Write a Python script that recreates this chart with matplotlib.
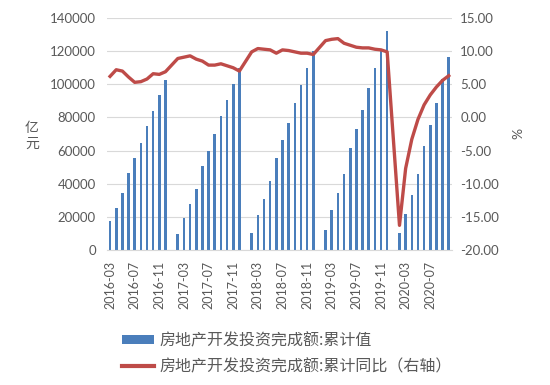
import numpy as np
import matplotlib
matplotlib.use("Agg")
import matplotlib.pyplot as plt
from matplotlib.patches import Patch
from matplotlib.lines import Line2D

# cumulative investment (亿元); None = January (no data)
v2016 = [17677, 25337, 34330, 46631, 55360, 64571, 74598, 83975, 93387, 102581]  # Mar-Dec
v2017 = [None, 9478, 19292, 27732, 36942, 50610, 59761, 69694, 80644, 90544, 100387, 109799]
v2018 = [None, 10357, 21291, 30592, 41301, 55531, 66098, 76519, 88948, 99325, 110083, 120264]
v2019 = [None, 12090, 23803, 34217, 46075, 61609, 72843, 84589, 98008, 109603, 121265, 132194]
v2020 = [None, 10115, 21963, 33103, 45920, 62780, 75325, 88454, 103484, 116556]  # Jan-Oct

# cumulative yoy (%)
y2016 = [6.2, 7.2, 7.0, 6.1, 5.3, 5.4, 5.8, 6.6, 6.5, 6.9]
y2017 = [None, 8.9, 9.1, 9.3, 8.8, 8.5, 7.9, 7.9, 8.1, 7.8, 7.5, 7.0]
y2018 = [None, 9.9, 10.4, 10.3, 10.2, 9.7, 10.2, 10.1, 9.9, 9.7, 9.7, 9.5]
y2019 = [None, 11.6, 11.8, 11.9, 11.2, 10.9, 10.6, 10.5, 10.5, 10.3, 10.2, 9.9]
y2020 = [None, -16.3, -7.7, -3.3, -0.3, 1.9, 3.4, 4.6, 5.6, 6.3]

months = ([f"2016-{m:02d}" for m in range(3, 13)] +
          [f"{y}-{m:02d}" for y in (2017, 2018, 2019) for m in range(1, 13)] +
          [f"2020-{m:02d}" for m in range(1, 11)])

values = np.array([np.nan if v is None else v for v in v2016 + v2017 + v2018 + v2019 + v2020], float)
yoy = np.array([np.nan if v is None else v for v in y2016 + y2017 + y2018 + y2019 + y2020], float)

bar_label = "房地产开发投资完成额:累计值"
line_label = "房地产开发投资完成额:累计同比（右轴）"

gray = "#595959"
fig = plt.figure(figsize=(5.5, 3.85), dpi=100)
ax = fig.add_axes([0.1945, 0.351, 0.627, 0.602])
x = np.arange(len(months))
ax.bar(x, np.nan_to_num(values), width=0.42, color="#4A7EBB", zorder=2)
ax.set_xlim(-0.5, len(months) - 0.5)
ax.set_ylim(0, 140000)
ax.set_yticks(np.arange(0, 140001, 20000))
ax.yaxis.grid(True, color="#D9D9D9", linewidth=0.8, zorder=0)
ax.set_axisbelow(True)
for s in ["top", "left", "right"]:
    ax.spines[s].set_visible(False)
ax.spines["bottom"].set_color("#D9D9D9")
ax.tick_params(axis="y", length=0, labelsize=9.5, labelcolor=gray, pad=8)
ax.set_xticks(x[::4])
ax.set_xticklabels(months[::4], rotation=90, fontsize=9, color=gray)
ax.tick_params(axis="x", length=0, pad=8)
for lab in ax.get_yticklabels() + ax.get_xticklabels():
    lab.set_family("Lato")

ax2 = ax.twinx()
mask = ~np.isnan(yoy)
ax2.plot(x[mask], yoy[mask], color="#BE4B48", linewidth=2.4, solid_joinstyle="round", zorder=3)
ax2.set_ylim(-20, 15)
ax2.set_yticks(np.arange(-20, 15.1, 5))
ax2.set_yticklabels([f"{t:.2f}" for t in np.arange(-20, 15.1, 5)], family="Lato")
for s in ["top", "left", "right", "bottom"]:
    ax2.spines[s].set_visible(False)
ax2.tick_params(axis="y", length=0, labelsize=9.5, labelcolor=gray, pad=6)

fig.text(32 / 550, 1 - 136 / 385, "亿\n元", family="Noto Sans CJK SC", fontsize=10,
         color=gray, ha="center", va="center", linespacing=1.1)
fig.text(518 / 550, 1 - 133 / 385, "%", family="Lato", fontsize=10, color=gray,
         ha="center", va="center", rotation=90)

handles = [Patch(facecolor="#4A7EBB", edgecolor="none"),
           Line2D([0], [0], color="#BE4B48", linewidth=3)]
fig.legend(handles, [bar_label, line_label], loc="upper left",
           bbox_to_anchor=(108 / 550, 1 - 318 / 385), frameon=False,
           prop={"family": "Noto Sans CJK SC", "size": 11.5}, labelcolor=gray,
           handlelength=2.0, handleheight=0.45, labelspacing=0.55, handletextpad=0.3)

fig.savefig("out.png", dpi=100)
